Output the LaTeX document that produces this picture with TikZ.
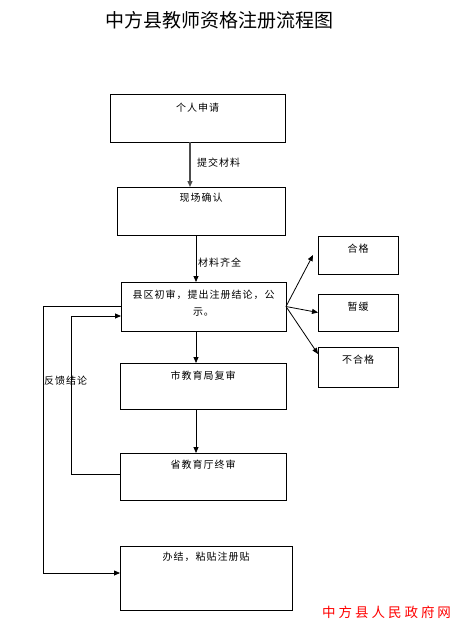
\documentclass[tikz,border=0pt]{standalone}
\usepackage{fontspec}
\newfontfamily\cjk{Noto Sans CJK SC}
\newfontfamily\cjksp[LetterSpace=10]{Noto Sans CJK SC}
\newfontfamily\cjkwm[LetterSpace=22]{Noto Sans CJK SC}
\usetikzlibrary{arrows.meta,calc}
\tikzset{
  box/.style={draw, line width=1pt, inner sep=0pt, outer sep=0pt},
  btxt/.style={font=\cjksp\fontsize{10}{17}\selectfont, inner sep=0pt, anchor=center, align=center},
  ltxt/.style={font=\cjksp\fontsize{10}{12}\selectfont, inner sep=0pt, anchor=west},
  arr/.style={line width=0.8pt, -{Triangle[length=6pt,width=5pt]}},
  ln/.style={line width=0.8pt}
}
\begin{document}
\begin{tikzpicture}[x=1pt,y=-1pt]
\fill[white] (0,0) rectangle (454,623);
\useasboundingbox (0,0) rectangle (454,623);
% title
\node[inner sep=0pt, font=\cjk\fontsize{19}{21}\selectfont] (title) at (219.5,20) {中方县教师资格注册流程图};
% main boxes
\node[box, minimum width=175pt, minimum height=47pt, label={[btxt, yshift=-13pt]north:个人申请}] (b1) at (197.5,118.5) {};
\node[box, minimum width=168pt, minimum height=48pt, label={[btxt, yshift=-11pt]north:现场确认}] (b2) at (201,211) {};
\node[box, minimum width=165pt, minimum height=49pt, label={[btxt, yshift=-21.5pt]north:县区初审，提出注册结论，公\\示。}] (b3) at (203.5,306.5) {};
\node[box, minimum width=166pt, minimum height=46pt, label={[btxt, yshift=-13pt]north:市教育局复审}] (b4) at (203,386) {};
\node[box, minimum width=166pt, minimum height=47pt, label={[btxt, yshift=-12pt]north:省教育厅终审}] (b5) at (203,476.5) {};
\node[box, minimum width=172pt, minimum height=64pt, label={[btxt, yshift=-11pt]north:办结，粘贴注册贴}] (b6) at (206,578) {};
% result boxes
\node[box, minimum width=80pt, minimum height=38pt, label={[btxt, yshift=-13pt]north:合格}] (g1) at (358,255) {};
\node[box, minimum width=80pt, minimum height=37pt, label={[btxt, yshift=-13pt]north:暂缓}] (g2) at (358,312.5) {};
\node[box, minimum width=80pt, minimum height=40pt, label={[btxt, yshift=-13pt]north:不合格}] (g3) at (358,367) {};
% vertical flow
\draw[arr, line width=1.3pt, draw=black!70] ([xshift=-7.5pt]b1.south) -- ([xshift=-7.5pt]b1.south |- b2.north);
\node[ltxt] (l1) at (197,163) {提交材料};
\draw[arr] ([xshift=-5pt]b2.south) -- ([xshift=-5pt]b2.south |- b3.north);
\node[ltxt] (l2) at (198,263) {材料齐全};
\draw[arr] ([xshift=-7.5pt]b3.south) -- ([xshift=-7.5pt]b3.south |- b4.north);
\draw[arr] ([xshift=-7pt]b4.south) -- ([xshift=-7pt]b4.south |- b5.north);
% fan to results
\draw[arr] (b3.east) -- ([xshift=-5pt]g1.west);
\draw[arr] (b3.east) -- (g2.west);
\draw[arr] (b3.east) -- ([yshift=13pt]g3.west);
% feedback loops
\draw[arr] (b3.west) -- ++(-78,0) |- ([yshift=5pt]b6.west);
\draw[arr] ([yshift=2.5pt]b5.west) -- ++(-49,0) |- ([yshift=-9.5pt]b3.west);
\node[ltxt] (l3) at (44,381) {反馈结论};
% watermark
\node[inner sep=0pt, anchor=west, text=red, font=\cjkwm\fontsize{13.5}{15}\selectfont] (wm) at (322,612) {中方县人民政府网};
\end{tikzpicture}
\end{document}
